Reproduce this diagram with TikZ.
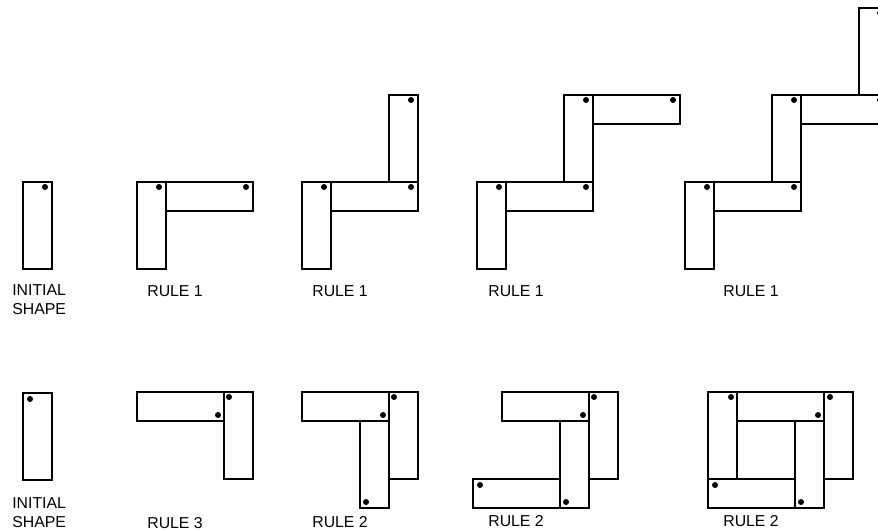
\documentclass[tikz,border=0pt]{standalone}
\usepackage{fontspec}
\setmainfont{Liberation Sans}

\begin{document}
\begin{tikzpicture}[x=0.02cm,y=-0.02cm,blk/.style={draw,line width=1.4pt},dotmark/.style={fill=black},every node/.style={font=\fontsize{9}{10.8}\selectfont,inner sep=0pt,anchor=west,align=left}]
\useasboundingbox (0,0) rectangle (878,531);
\clip (0,0) rectangle (878,531);
% top row
\draw[blk] (23,182) rectangle (52,269);
\fill[dotmark] (45,187) circle[radius=1.7pt];
\draw[blk] (137,182) rectangle (166,269);
\draw[blk] (166,182) rectangle (253,211);
\fill[dotmark] (159,187) circle[radius=1.7pt];
\fill[dotmark] (246,187) circle[radius=1.7pt];
\draw[blk] (302,182) rectangle (331,269);
\draw[blk] (331,182) rectangle (418,211);
\draw[blk] (389,95) rectangle (418,182);
\fill[dotmark] (324,187) circle[radius=1.7pt];
\fill[dotmark] (411,187) circle[radius=1.7pt];
\fill[dotmark] (411,100) circle[radius=1.7pt];
\draw[blk] (477,182) rectangle (506,269);
\draw[blk] (506,182) rectangle (593,211);
\draw[blk] (564,95) rectangle (593,182);
\draw[blk] (593,95) rectangle (680,124);
\fill[dotmark] (499,187) circle[radius=1.7pt];
\fill[dotmark] (586,187) circle[radius=1.7pt];
\fill[dotmark] (586,100) circle[radius=1.7pt];
\fill[dotmark] (673,100) circle[radius=1.7pt];
\draw[blk] (685,182) rectangle (714,269);
\draw[blk] (714,182) rectangle (801,211);
\draw[blk] (772,95) rectangle (801,182);
\draw[blk] (801,95) rectangle (888,124);
\draw[blk] (859,8) rectangle (888,95);
\fill[dotmark] (707,187) circle[radius=1.7pt];
\fill[dotmark] (794,187) circle[radius=1.7pt];
\fill[dotmark] (794,100) circle[radius=1.7pt];
\fill[dotmark] (880,100) circle[radius=1.7pt];
\fill[dotmark] (880,13) circle[radius=1.7pt];
% bottom row
\draw[blk] (23,393) rectangle (52,480);
\fill[dotmark] (30,399) circle[radius=1.7pt];
\draw[blk] (137,392) rectangle (224,421);
\draw[blk] (224,392) rectangle (253,479);
\fill[dotmark] (229,397) circle[radius=1.7pt];
\fill[dotmark] (218,415) circle[radius=1.7pt];
\draw[blk] (302,392) rectangle (389,421);
\draw[blk] (389,392) rectangle (418,479);
\draw[blk] (360,421) rectangle (389,508);
\fill[dotmark] (394,397) circle[radius=1.7pt];
\fill[dotmark] (383,415) circle[radius=1.7pt];
\fill[dotmark] (366,502) circle[radius=1.7pt];
\draw[blk] (502,392) rectangle (589,421);
\draw[blk] (589,392) rectangle (618,479);
\draw[blk] (560,421) rectangle (589,508);
\draw[blk] (473,479) rectangle (560,508);
\fill[dotmark] (594,397) circle[radius=1.7pt];
\fill[dotmark] (583,415) circle[radius=1.7pt];
\fill[dotmark] (566,502) circle[radius=1.7pt];
\fill[dotmark] (480,485) circle[radius=1.7pt];
\draw[blk] (708,392) rectangle (737,479);
\draw[blk] (737,392) rectangle (824,421);
\draw[blk] (824,392) rectangle (853,479);
\draw[blk] (795,421) rectangle (824,508);
\draw[blk] (708,479) rectangle (795,508);
\fill[dotmark] (731,397) circle[radius=1.7pt];
\fill[dotmark] (830,397) circle[radius=1.7pt];
\fill[dotmark] (818,415) circle[radius=1.7pt];
\fill[dotmark] (801,502) circle[radius=1.7pt];
\fill[dotmark] (715,485) circle[radius=1.7pt];
% labels
\node (init1) at (12,300) {INITIAL\\SHAPE};
\node (r1a) at (147,291) {RULE 1};
\node (r1b) at (312,291) {RULE 1};
\node (r1c) at (488,291) {RULE 1};
\node (r1d) at (723,291) {RULE 1};
\node (init2) at (12,513) {INITIAL\\SHAPE};
\node (r3) at (147,523) {RULE 3};
\node (r2a) at (312,522) {RULE 2};
\node (r2b) at (488,521) {RULE 2};
\node (r2c) at (723,521) {RULE 2};
\end{tikzpicture}
\end{document}
